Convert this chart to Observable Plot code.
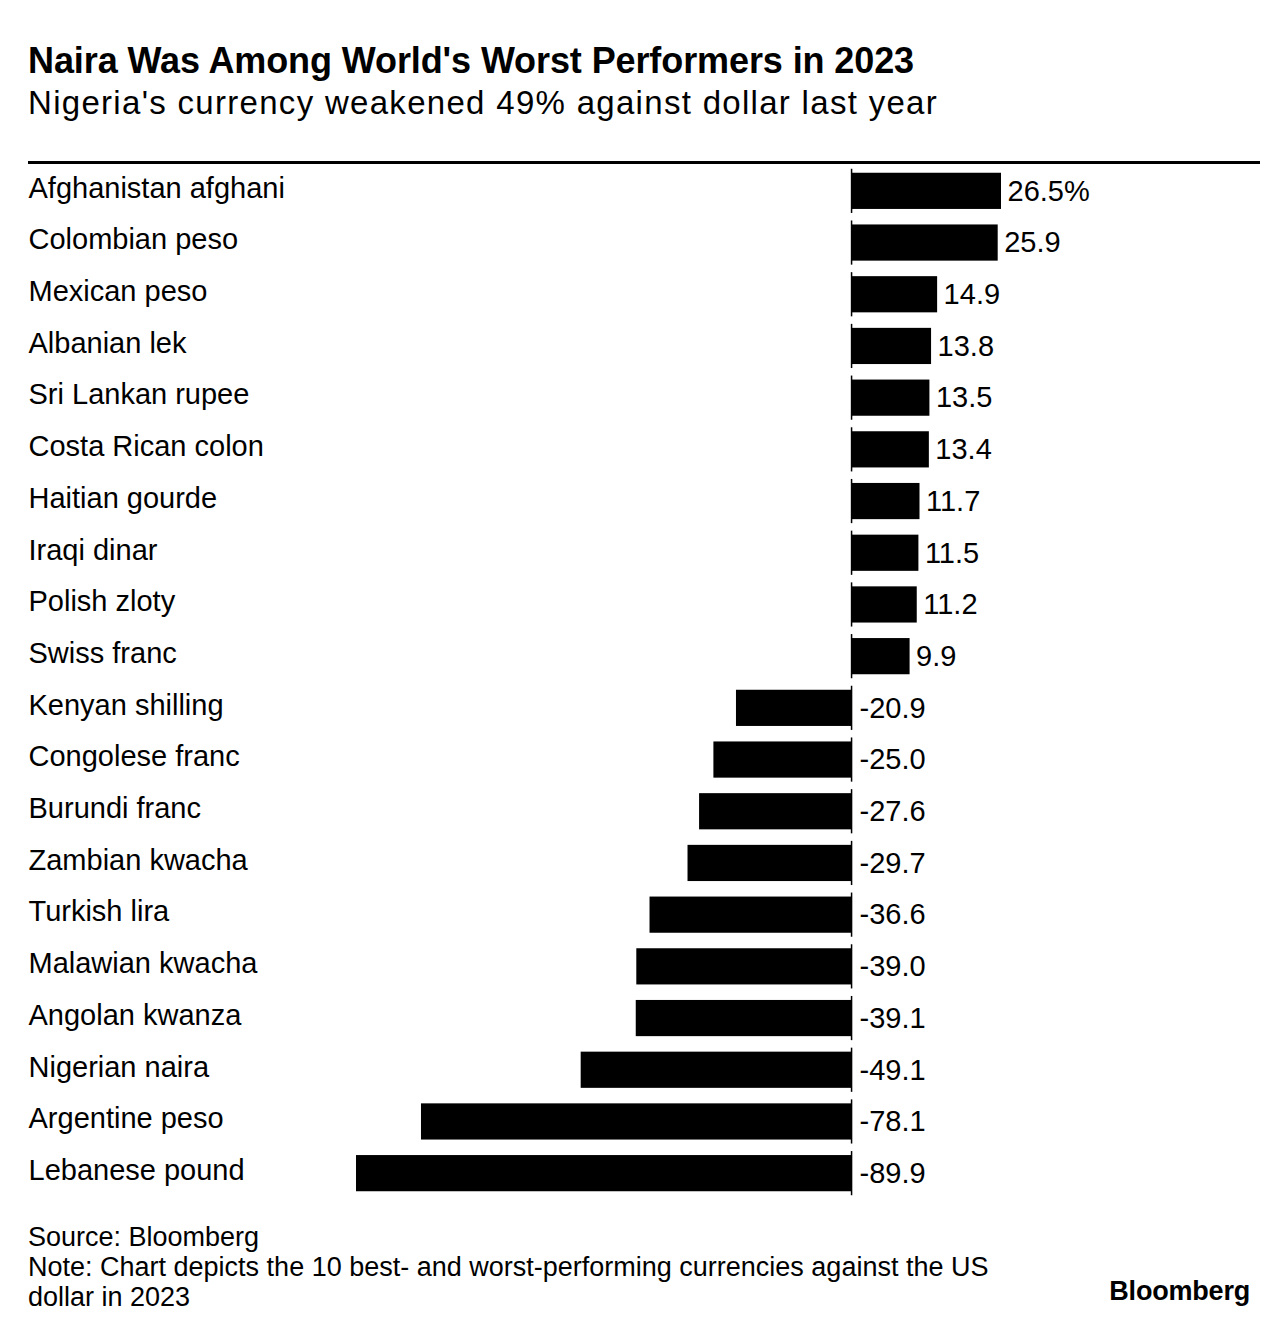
<!DOCTYPE html>
<html><head><meta charset="utf-8">
<script src="https://cdn.jsdelivr.net/npm/d3@7"></script>
<script src="https://cdn.jsdelivr.net/npm/@observablehq/plot@0.6"></script>
<style>
body{margin:0;background:#fff;font-family:"Liberation Sans",Arial,sans-serif;color:#000}
#wrap{position:relative;width:1288px;height:1336px;overflow:hidden}
.t{position:absolute;left:28px;white-space:nowrap;line-height:1}
#title{top:43px;font-size:36px;font-weight:700;letter-spacing:-0.1px}
#sub{top:86px;font-size:33px;letter-spacing:1.3px}
#rule{position:absolute;left:28px;top:161px;width:1232px;height:3px;background:#000}
#chart{position:absolute;left:28px;top:164px;line-height:0}
#foot{top:1222px;font-size:27px;line-height:30px;white-space:normal;width:980px}
#logo{position:absolute;right:38px;top:1278px;font-size:27px;font-weight:700;letter-spacing:-0.2px;line-height:1}
</style></head>
<body><div id="wrap">
<div class="t" id="title">Naira Was Among World's Worst Performers in 2023</div>
<div class="t" id="sub">Nigeria's currency weakened 49% against dollar last year</div>
<div id="rule"></div>
<div id="chart"></div>
<div class="t" id="foot">Source: Bloomberg<br>Note: Chart depicts the 10 best- and worst-performing currencies against the US dollar in 2023</div>
<div id="logo">Bloomberg</div>
</div>
<script>
const names = ["Afghanistan afghani","Colombian peso","Mexican peso","Albanian lek","Sri Lankan rupee","Costa Rican colon","Haitian gourde","Iraqi dinar","Polish zloty","Swiss franc","Kenyan shilling","Congolese franc","Burundi franc","Zambian kwacha","Turkish lira","Malawian kwacha","Angolan kwanza","Nigerian naira","Argentine peso","Lebanese pound"];
const values = [26.5,25.9,14.9,13.8,13.5,13.4,11.7,11.5,11.2,9.9,-20.9,-25.0,-27.6,-29.7,-36.6,-39.0,-39.1,-49.1,-78.1,-89.9];
const data = names.map((name,i)=>({name, value: values[i], label: values[i].toFixed(1) + (i===0 ? "%" : "")}));
const pos = data.filter(d=>d.value>0), neg = data.filter(d=>d.value<0);

const chart = Plot.plot({
  width: 1232, height: 1045, marginTop: 1, marginBottom: 10, marginLeft: 328, marginRight: 263,
  x: {domain: [-89.9, 26.5], axis: null},
  y: {domain: names, axis: null, paddingInner: 0.3, paddingOuter: 0.15, round: false},
  style: {fontFamily: "'Liberation Sans', Arial, sans-serif", fontSize: "29px", color: "#000", background: "#fff", overflow: "visible"},
  marks: [
    Plot.barX(neg, {x: "value", y: "name", fill: "#000"}),
    Plot.barX(pos, {x: "value", y: "name", fill: "#000", dx: 4, insetLeft: -4}),
    Plot.tickX(data, {x: 0, y: "name", stroke: "#000", strokeWidth: 1.5, insetTop: -4, insetBottom: -4}),
    Plot.text(data, {y: "name", text: "name", frameAnchor: "left", dx: -328, dy: -3, textAnchor: "start", fill: "#000"}),
    Plot.text(pos, {x: "value", y: "name", text: "label", textAnchor: "start", dx: 10, fill: "#000"}),
    Plot.text(neg, {x: 0, y: "name", text: "label", textAnchor: "start", dx: 8, fill: "#000"})
  ]
});
document.getElementById("chart").appendChild(chart);
</script>
</body></html>
